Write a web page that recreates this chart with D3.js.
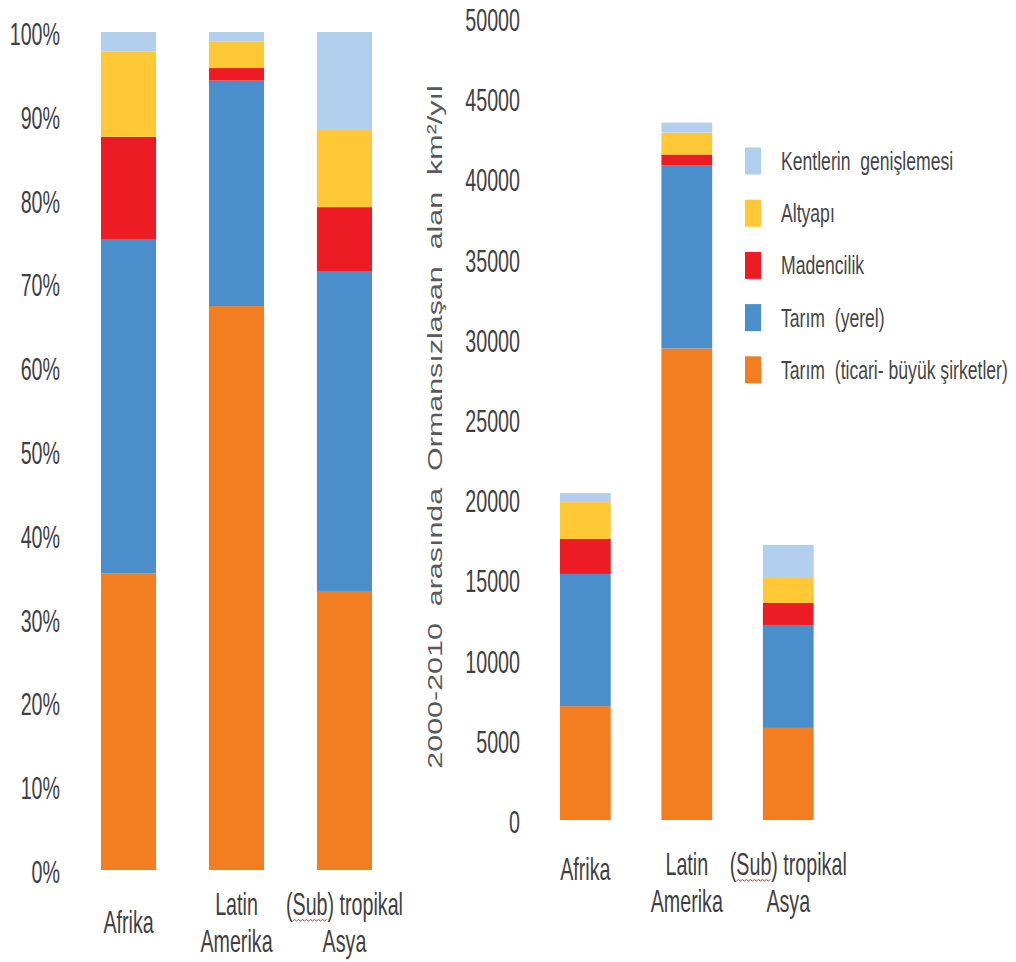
<!DOCTYPE html>
<html><head><meta charset="utf-8">
<script src="https://cdn.jsdelivr.net/npm/d3@7"></script>
<style>
html,body{margin:0;padding:0;background:#fff;}
text{font-family:"Liberation Sans",Arial,sans-serif;white-space:pre;}
</style></head>
<body>
<svg id="chart" width="1016" height="962"></svg>
<script>
// ---- DATA ----
const categories = ["Afrika", "Latin\nAmerika", "(Sub) tropikal\nAsya"];
const seriesNames = ["Tarım  (ticari- büyük şirketler)", "Tarım  (yerel)", "Madencilik", "Altyapı", "Kentlerin  genişlemesi"];
const seriesColors = ["#f37e22", "#4a8fcc", "#ed1c24", "#ffc837", "#b2d0ee"];
// percentage shares (left chart)
const pctTicari = [35.4, 67.3, 33.3];
const pctYerel = [39.9, 26.9, 38.1];
const pctMaden = [12.2, 1.5, 7.7];
const pctAltyapi = [10.2, 3.2, 9.2];
const pctKent = [2.3, 1.1, 11.7];
// km²/yıl (right chart)
const kmTicari = [7100, 29400, 5740];
const kmYerel = [8240, 11400, 6420];
const kmMaden = [2180, 690, 1370];
const kmAltyapi = [2300, 1370, 1560];
const kmKent = [560, 620, 2060];
const pctTicks = [0, 10, 20, 30, 40, 50, 60, 70, 80, 90, 100];
const kmTicks = [0, 5000, 10000, 15000, 20000, 25000, 30000, 35000, 40000, 45000, 50000];
const yTitle = "2000-2010  arasında  Ormansızlaşan  alan  km²/yıl";

const svg = d3.select("#chart");
const TXT = "#404040";
const SX = 0.82, SY = 1.33;

function buildRows(arrs) {
  return categories.map((c, i) => {
    const r = { cat: c };
    arrs.forEach((a, k) => r["s" + k] = a[i]);
    return r;
  });
}
const keys = seriesNames.map((d, k) => "s" + k);

function drawPanel(cfg) {
  const rows = buildRows(cfg.arrs);
  const stack = d3.stack().keys(keys)(rows);
  const x = d3.scaleBand().domain(categories).range(cfg.xRange).paddingInner(cfg.pi).paddingOuter(0.25);
  const y = d3.scaleLinear().domain(cfg.yDomain).range(cfg.yRange);
  const g = svg.append("g");
  g.selectAll("g.layer").data(stack).join("g").attr("class", "layer")
    .attr("fill", (d, k) => seriesColors[k])
    .selectAll("rect").data(d => d).join("rect")
    .attr("x", d => x(d.data.cat))
    .attr("width", x.bandwidth())
    .attr("y", d => y(d[1]))
    .attr("height", d => y(d[0]) - y(d[1]));

  // y axis labels
  const ax = g.append("g").attr("transform", `translate(${cfg.axisX},0)`)
    .call(d3.axisLeft(y).tickValues(cfg.ticks).tickSize(0).tickPadding(0).tickFormat(cfg.fmt));
  ax.select(".domain").remove();
  ax.selectAll(".tick text")
    .attr("x", 0).attr("dy", null).attr("y", 0)
    .attr("transform", `translate(0,12.5) scale(${SX},${SY})`)
    .attr("fill", TXT).attr("font-size", 24)
    .attr("font-family", '"Liberation Sans",Arial,sans-serif');

  // x labels
  categories.forEach(c => {
    const lines = c.split("\n");
    const cx = x(c) + x.bandwidth() / 2;
    lines.forEach((ln, li) => {
      const by = lines.length === 1 ? cfg.singleBase : cfg.lineBase + li * 37;
      const gg = g.append("g").attr("transform", `translate(${cx},${by})`);
      const t = gg.append("text").attr("text-anchor", "middle")
        .attr("transform", `scale(${SX},${SY})`)
        .attr("font-size", 24).attr("fill", TXT).text(ln);
      const idx = ln.indexOf("Sub");
      if (idx >= 0) {
        const node = t.node();
        const tot = node.getComputedTextLength();
        const st = node.getSubStringLength(0, idx);
        const ln3 = node.getSubStringLength(idx, 3);
        const x0 = (-tot / 2 + st) * SX, x1 = x0 + ln3 * SX;
        let p = `M${x0},${6}`;
        let up = true;
        for (let xx = x0 + 2; xx <= x1; xx += 2) { p += `L${xx},${up ? 4.5 : 6}`; up = !up; }
        gg.append("path").attr("d", p).attr("fill", "none").attr("stroke", "#e0302a").attr("stroke-width", 1);
      }
    });
  });
}

drawPanel({
  arrs: [pctTicari, pctYerel, pctMaden, pctAltyapi, pctKent],
  xRange: [74, 399], pi: 0.49, yDomain: [0, 100], yRange: [870, 32],
  ticks: pctTicks, fmt: d => d + "%", axisX: 60, lineBase: 915, singleBase: 933
});
drawPanel({
  arrs: [kmTicari, kmYerel, kmMaden, kmAltyapi, kmKent],
  xRange: [534.6, 839], pi: 0.5, yDomain: [0, 50000], yRange: [820, 18],
  ticks: kmTicks, fmt: d => String(d), axisX: 520, lineBase: 875, singleBase: 880
});

// y-axis title for right chart
svg.append("g").attr("transform", "translate(442,427) rotate(-90)")
  .append("text").attr("text-anchor", "middle")
  .attr("transform", "scale(1.45,1)")
  .attr("font-size", 21).attr("fill", "#595959").text(yTitle);

// legend (top to bottom: reversed series order)
const legOrder = d3.range(seriesNames.length).reverse();
const leg = svg.append("g");
legOrder.forEach((k, i) => {
  const cy = 161 + i * 52.2;
  leg.append("rect").attr("x", 745).attr("y", cy - 13.5).attr("width", 16).attr("height", 27).attr("fill", seriesColors[k]);
  leg.append("g").attr("transform", `translate(781,${cy + 9})`)
    .append("text").attr("transform", "scale(1,1.42)")
    .attr("font-size", 17.6).attr("fill", "#454545").text(seriesNames[k]);
});
</script>
</body></html>
